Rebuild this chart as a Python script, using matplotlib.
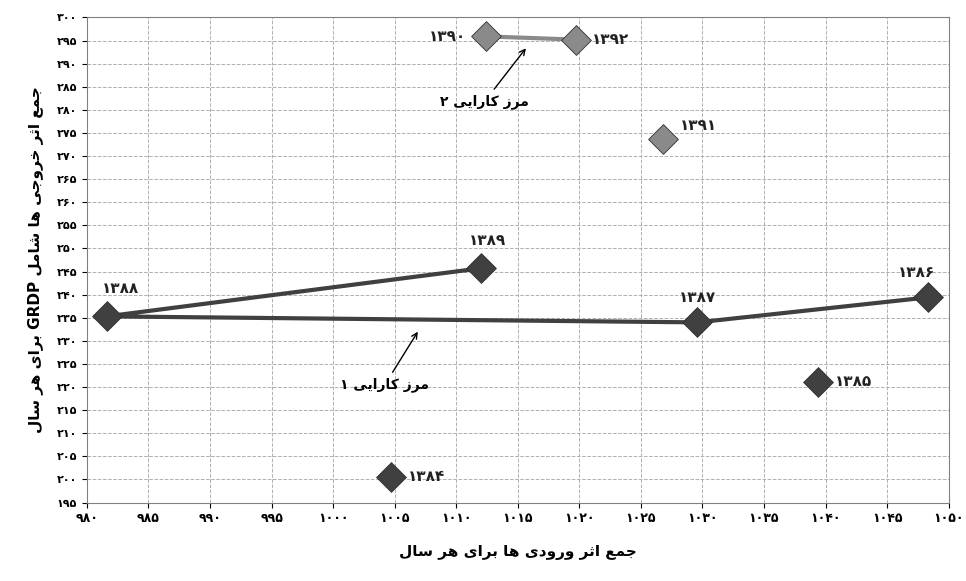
import matplotlib.pyplot as plt

# data
years = ['1384', '1385', '1386', '1387', '1388', '1389', '1390', '1391', '1392']
inputs = [1004.7, 1039.4, 1048.3, 1029.6, 981.6, 1012.0, 1012.4, 1026.8, 1019.7]
outputs = [200.6, 221.2, 239.4, 234.0, 235.3, 245.7, 295.9, 273.6, 295.2]
frontier1 = ['1389', '1388', '1387', '1386']
frontier2 = ['1390', '1392']
light_years = ['1390', '1391', '1392']

DARK = '#404040'
LIGHT = '#8a8a8a'

FA_DIG = str.maketrans('0123456789', '۰۱۲۳۴۵۶۷۸۹')

# minimal persian shaping: iso, fin, ini, med
FORMS = {
    'ا': ('\uFE8D', '\uFE8E', None, None),
    'ب': ('\uFE8F', '\uFE90', '\uFE91', '\uFE92'),
    'ث': ('\uFE99', '\uFE9A', '\uFE9B', '\uFE9C'),
    'ج': ('\uFE9D', '\uFE9E', '\uFE9F', '\uFEA0'),
    'خ': ('\uFEA5', '\uFEA6', '\uFEA7', '\uFEA8'),
    'د': ('\uFEA9', '\uFEAA', None, None),
    'ر': ('\uFEAD', '\uFEAE', None, None),
    'ز': ('\uFEAF', '\uFEB0', None, None),
    'س': ('\uFEB1', '\uFEB2', '\uFEB3', '\uFEB4'),
    'ش': ('\uFEB5', '\uFEB6', '\uFEB7', '\uFEB8'),
    'ع': ('\uFEC9', '\uFECA', '\uFECB', '\uFECC'),
    'ل': ('\uFEDD', '\uFEDE', '\uFEDF', '\uFEE0'),
    'م': ('\uFEE1', '\uFEE2', '\uFEE3', '\uFEE4'),
    'ه': ('\uFEE9', '\uFEEA', '\uFEEB', '\uFEEC'),
    'و': ('\uFEED', '\uFEEE', None, None),
    'ی': ('\uFBFC', '\uFBFD', '\uFBFE', '\uFBFF'),
    'ک': ('\uFB8E', '\uFB8F', '\uFB90', '\uFB91'),
}


def shape_word(w):
    out = []
    for i, c in enumerate(w):
        if c not in FORMS:
            out.append(c)
            continue
        prev = w[i - 1] if i > 0 else None
        nxt = w[i + 1] if i + 1 < len(w) else None
        join_prev = prev in FORMS and FORMS[prev][2] is not None
        join_next = nxt in FORMS and FORMS[c][2] is not None
        iso, fin, ini, med = FORMS[c]
        if join_prev and join_next:
            out.append(med)
        elif join_prev:
            out.append(fin)
        elif join_next:
            out.append(ini)
        else:
            out.append(iso)
    return ''.join(out)


def fa(text):
    words = text.split(' ')
    res = []
    for w in reversed(words):
        if any(ch in FORMS for ch in w):
            res.append(shape_word(w)[::-1])
        else:
            res.append(w)
    return ' '.join(res)


fig, ax = plt.subplots(figsize=(9.66, 5.81), dpi=100)
fig.subplots_adjust(left=0.09, right=0.982, top=0.97, bottom=0.135)

pos = dict(zip(years, zip(inputs, outputs)))

ax.plot([pos[y][0] for y in frontier1], [pos[y][1] for y in frontier1],
        color=DARK, lw=3, zorder=2)
ax.plot([pos[y][0] for y in frontier2], [pos[y][1] for y in frontier2],
        color=LIGHT, lw=3, zorder=2)

for y in years:
    c = LIGHT if y in light_years else DARK
    ax.scatter(*pos[y], marker='D', s=230, color=c, edgecolor='#303030',
               linewidth=0.6, zorder=3)

offsets = {'1384': (12, 0, 'left'), '1385': (12, 0, 'left'), '1386': (-8, 18, 'center'),
           '1387': (0, 18, 'center'), '1388': (10, 20, 'center'), '1389': (5, 20, 'center'),
           '1390': (-14, 0, 'right'), '1391': (12, 10, 'left'), '1392': (12, 0, 'left')}
for y in years:
    dx, dy, ha = offsets[y]
    ax.annotate(y.translate(FA_DIG), pos[y], xytext=(dx, dy), textcoords='offset points',
                ha=ha, va='center', fontsize=11, fontweight='bold', color='#222222')

ax.annotate('۱ ' + fa('مرز کارایی'), xy=(1007, 232.5), xytext=(1004.2, 220.5),
            ha='center', va='center', fontsize=10, fontweight='bold',
            arrowprops=dict(arrowstyle='->', color='black', lw=1))
ax.annotate('۲ ' + fa('مرز کارایی'), xy=(1015.8, 293.8), xytext=(1012.3, 281.8),
            ha='center', va='center', fontsize=10, fontweight='bold',
            arrowprops=dict(arrowstyle='->', color='black', lw=1))

ax.set_xlim(980, 1050)
ax.set_ylim(195, 300)
xt = list(range(980, 1051, 5))
yt = list(range(195, 301, 5))
ax.set_xticks(xt)
ax.set_xticklabels([str(v).translate(FA_DIG) for v in xt], fontsize=9, fontweight='bold')
ax.set_yticks(yt)
ax.set_yticklabels([str(v).translate(FA_DIG) for v in yt], fontsize=8, fontweight='bold')
ax.grid(True, color='#b0b0b0', linestyle='--', lw=0.7)
ax.set_axisbelow(True)
for s in ax.spines.values():
    s.set_color('#808080')

ax.set_xlabel(fa('جمع اثر ورودی ها برای هر سال'), fontsize=11, fontweight='bold', labelpad=14)
ax.set_ylabel(fa('جمع اثر خروجی ها شامل GRDP برای هر سال'), fontsize=11,
              fontweight='bold', labelpad=10)

fig.savefig('out.png')
